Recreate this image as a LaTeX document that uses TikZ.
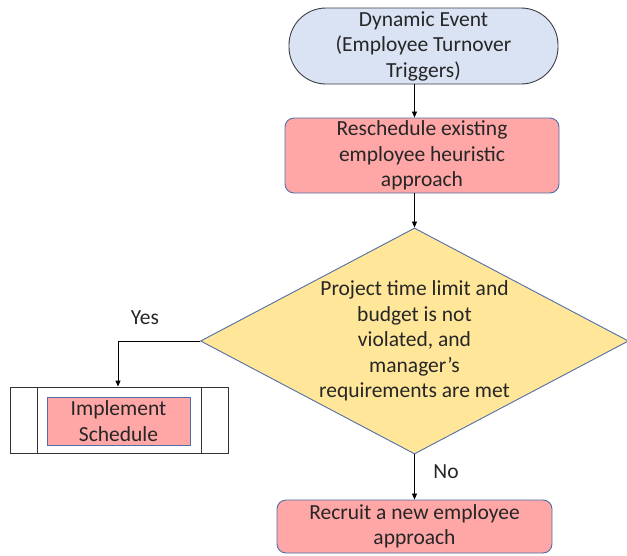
\documentclass[tikz,border=0pt]{standalone}
\usepackage{fontspec}
\setmainfont{Carlito}
\usetikzlibrary{arrows.meta,shapes.geometric}
\definecolor{termfill}{RGB}{218,227,243}
\definecolor{pinkfill}{RGB}{255,166,166}
\definecolor{yelfill}{RGB}{255,230,153}
\definecolor{blueedge}{RGB}{82,110,165}
\definecolor{grayedge}{RGB}{60,60,70}
\tikzset{
  txt/.style={font=\fontsize{21.5}{25.5}\selectfont, align=center, text=black!85},
  procbox/.style={txt, draw=blueedge, fill=pinkfill, rounded corners=9pt, line width=0.9pt, inner sep=0pt},
  conn/.style={draw=black, line width=0.8pt, -{Triangle[length=6pt,width=5pt]}},
  lab/.style={font=\fontsize{21.5}{25}\selectfont, text=black!85}
}
\begin{document}
\begin{tikzpicture}[x=1pt,y=-1pt]
\useasboundingbox (0,0) rectangle (627,555);
% terminal
\node[txt, draw=grayedge, fill=termfill, line width=0.9pt, minimum width=269pt, minimum height=76pt, rounded corners=37pt, inner sep=0pt] (start) at (423.5,46) {Dynamic Event\\(Employee Turnover\\Triggers)};
% reschedule
\node[procbox, minimum width=274pt, minimum height=75pt] (resched) at (422,155.5) {Reschedule existing\\employee heuristic\\approach};
% diamond
\node[diamond, draw=blueedge, fill=yelfill, line width=0.9pt, minimum width=428pt, minimum height=226pt, inner sep=0pt, aspect=1.9] (dec) at (414.5,341) {};
\node[txt] (dectext) at (414.5,341) {Project time limit and\\budget is not\\violated, and\\manager’s\\requirements are met};
% implement
\node[draw=black!80, line width=0.8pt, minimum width=218pt, minimum height=66pt, inner sep=0pt] (impl) at (119,420) {};
\draw[black!80, line width=0.8pt] (37,387) -- (37,453) (201,387) -- (201,453);
\node[txt, draw=blueedge, fill=pinkfill, line width=0.9pt, minimum width=143pt, minimum height=48pt, inner sep=0pt] (impltext) at (118.5,421) {Implement\\Schedule};
% recruit
\node[procbox, minimum width=275pt, minimum height=53pt] (recruit) at (414.5,526.5) {Recruit a new employee\\approach};
% connectors
\draw[conn] (start.south -| dec.north) -- (resched.north -| dec.north);
\draw[conn] (resched.south -| dec.north) -- (dec.north);
\draw[conn] (dec.west) -| (impl.north -| 118,0);
\draw[conn] (dec.south) -- (recruit.north);
\node[lab] (yes) at (145,318) {Yes};
\node[lab] (no) at (446,472) {No};
\end{tikzpicture}
\end{document}
